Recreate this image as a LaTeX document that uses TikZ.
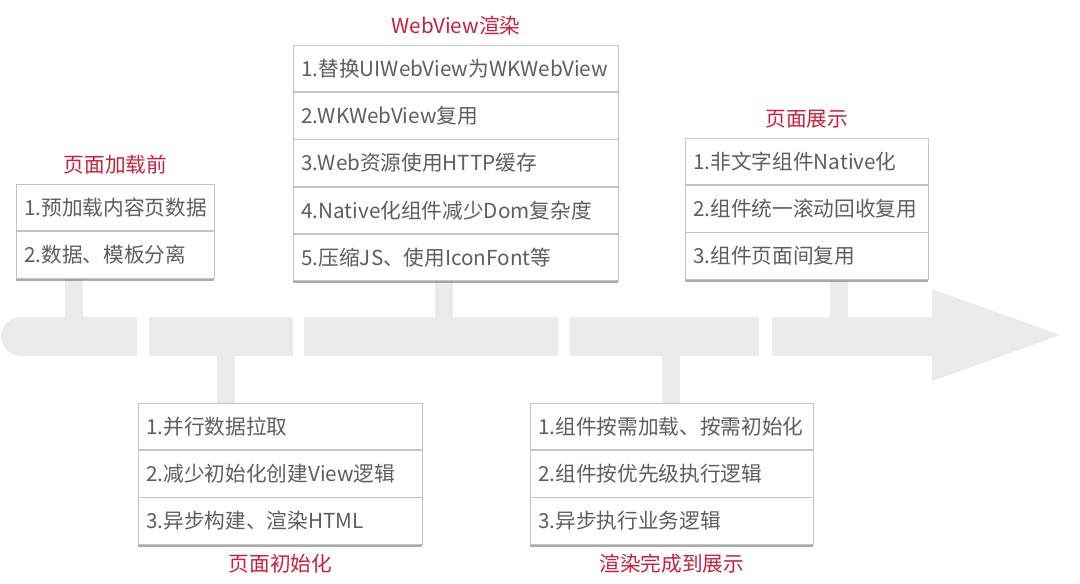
\documentclass[tikz,border=0pt]{standalone}
\usepackage{fontspec}
\setmainfont{Noto Sans CJK SC}
\usetikzlibrary{positioning,shadows,backgrounds}
\definecolor{bandgray}{HTML}{EBEBEB}
\definecolor{titlered}{RGB}{200,32,62}
\definecolor{itemtext}{HTML}{5E5E5E}
\definecolor{itemline}{HTML}{C4C4C4}
\tikzset{
    item/.style={draw=itemline, fill=white, line width=0.6pt, text=itemtext,
        minimum height=34.8pt, inner xsep=6pt, inner ysep=0pt, align=left,
        font=\fontsize{15.5pt}{18pt}\selectfont},
    lastitem/.style={item, drop shadow={shadow xshift=0pt, shadow yshift=-2pt,
        fill=black!55, opacity=0.6}},
    phase/.style={text=titlered, font=\fontsize{15.5pt}{18pt}\selectfont},
    stem/.style={draw=bandgray, line width=13.5pt},
}
\begin{document}
\begin{tikzpicture}[x=0.75pt, y=-0.75pt]
    \useasboundingbox (0,0) rectangle (1080,583);

    \fill[bandgray, rounded corners=15pt] (1,317) rectangle (60,356);
    \fill[bandgray] (30,317) rectangle (137,356);
    \fill[bandgray] (149,317) rectangle (293,356);
    \fill[bandgray] (304,317) rectangle (558,356);
    \fill[bandgray] (570,317) rectangle (759,356);
    \fill[bandgray] (772,317) -- (932,317) -- (932,289) -- (1060,335)
        -- (932,381) -- (932,356) -- (772,356) -- cycle;

    \coordinate (ka) at (74,317);
    \coordinate (kb) at (444,317);
    \coordinate (kc) at (839,317);
    \coordinate (kd) at (226,356);
    \coordinate (ke) at (671,356);

    \node[item, anchor=north west, text width=136.5pt] (a1) at (16,184) {1.预加载内容页数据};
    \node[lastitem, below=0pt of a1, text width=136.5pt] (a2) {2.数据、模板分离};
    \node[phase, above=3.5pt of a1] (ta) {页面加载前};

    \node[item, anchor=north west, text width=231.75pt] (b1) at (293,45) {1.替换UIWebView为WKWebView};
    \node[item, below=0pt of b1, text width=231.75pt] (b2) {2.WKWebView复用};
    \node[item, below=0pt of b2, text width=231.75pt] (b3) {3.Web资源使用HTTP缓存};
    \node[item, below=0pt of b3, text width=231.75pt] (b4) {4.Native化组件减少Dom复杂度};
    \node[lastitem, below=0pt of b4, text width=231.75pt] (b5) {5.压缩JS、使用IconFont等};
    \node[phase, above=3.5pt of b1] (tb) {WebView渲染};

    \node[item, anchor=north west, text width=170.25pt] (c1) at (685,138) {1.非文字组件Native化};
    \node[item, below=0pt of c1, text width=170.25pt] (c2) {2.组件统一滚动回收复用};
    \node[lastitem, below=0pt of c2, text width=170.25pt] (c3) {3.组件页面间复用};
    \node[phase, above=3.5pt of c1] (tc) {页面展示};

    \node[item, anchor=north west, text width=201pt] (d1) at (138,403) {1.并行数据拉取};
    \node[item, below=0pt of d1, text width=201pt] (d2) {2.减少初始化创建View逻辑};
    \node[lastitem, below=0pt of d2, text width=201pt] (d3) {3.异步构建、渲染HTML};
    \node[phase, below=3.5pt of d3] (td) {页面初始化};

    \node[item, anchor=north west, text width=200.25pt] (e1) at (530,403) {1.组件按需加载、按需初始化};
    \node[item, below=0pt of e1, text width=200.25pt] (e2) {2.组件按优先级执行逻辑};
    \node[lastitem, below=0pt of e2, text width=200.25pt] (e3) {3.异步执行业务逻辑};
    \node[phase, below=3.5pt of e3] (te) {渲染完成到展示};

    \begin{scope}[on background layer]
        \draw[stem] (a2.south -| ka) -- (ka);
        \draw[stem] (b5.south -| kb) -- (kb);
        \draw[stem] (c3.south -| kc) -- (kc);
        \draw[stem] (kd) -- (kd |- d1.north);
        \draw[stem] (ke) -- (ke |- e1.north);
    \end{scope}
\end{tikzpicture}
\end{document}
